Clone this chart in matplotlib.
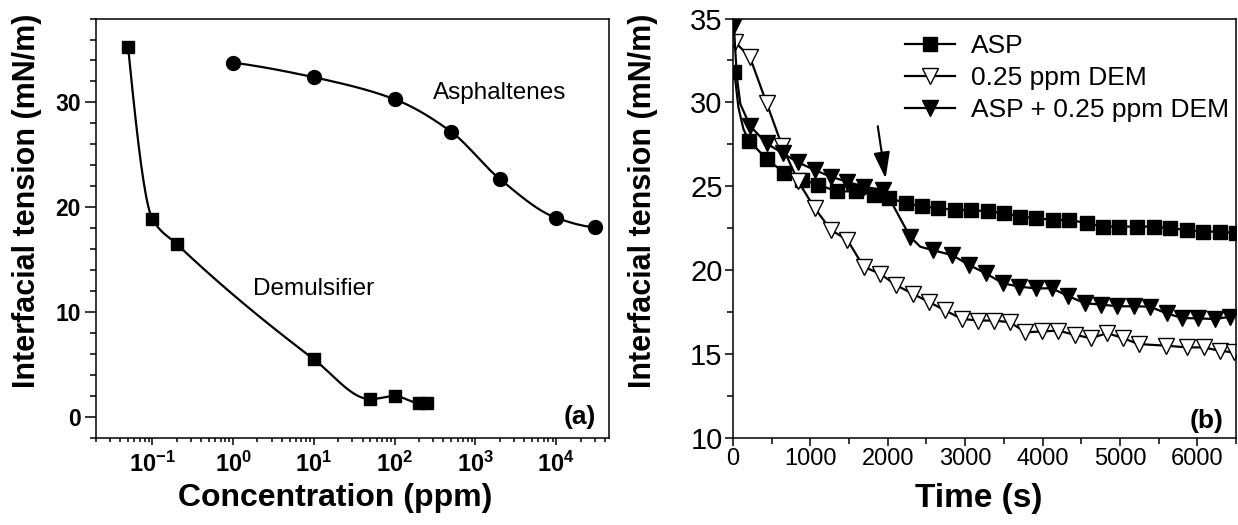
import numpy as np
import matplotlib
matplotlib.use("Agg")
import matplotlib.pyplot as plt
from matplotlib.ticker import MultipleLocator, LogLocator, NullFormatter, FixedLocator

plt.rcParams['font.family'] = ['Liberation Sans', 'DejaVu Sans']
plt.rcParams['mathtext.fontset'] = 'custom'
plt.rcParams['mathtext.rm'] = 'Liberation Sans'
plt.rcParams['mathtext.bf'] = 'Liberation Sans:bold'

# (a) interfacial tension vs concentration
dem_conc = [0.05, 0.1, 0.2, 10, 50, 100, 200, 250]
dem_ift = [35.3, 18.9, 16.5, 5.5, 1.7, 2.0, 1.35, 1.35]
asp_conc = [1, 10, 100, 500, 2000, 10000, 30000]
asp_ift = [33.8, 32.4, 30.3, 27.2, 22.7, 19.0, 18.1]
conc_ticks = [0.1, 1, 10, 100, 1000, 10000]
conc_labels = [r'$\mathbf{10^{-1}}$', r'$\mathbf{10^{0}}$', r'$\mathbf{10^{1}}$',
               r'$\mathbf{10^{2}}$', r'$\mathbf{10^{3}}$', r'$\mathbf{10^{4}}$']

# (b) dynamic interfacial tension
asp_t = [18, 70, 135, 210, 441, 664, 887, 1100, 1340, 1585, 1821, 2021, 2234, 2444, 2653,
         2866, 3080, 3289, 3498, 3711, 3921, 4135, 4348, 4580, 4780, 4994, 5216, 5439,
         5648, 5862, 6079, 6293, 6494]
asp_y = [31.8, 29.7, 28.4, 27.7, 26.6, 25.8, 25.4, 25.1, 24.7, 24.7, 24.5, 24.3, 24.0, 23.8,
         23.7, 23.6, 23.6, 23.5, 23.4, 23.2, 23.1, 23.0, 23.0, 22.8, 22.6, 22.6, 22.6, 22.6,
         22.5, 22.4, 22.3, 22.3, 22.2]
dem_t = [26, 218, 435, 635, 841, 1056, 1265, 1479, 1688, 1898, 2111, 2320, 2534, 2743,
         2956, 3169, 3369, 3579, 3779, 3993, 4201, 4416, 4624, 4838, 5040, 5240, 5600,
         5870, 6080, 6290, 6470]
dem_y = [33.6, 32.7, 29.95, 27.4, 25.3, 23.7, 22.4, 21.8, 20.2, 19.8, 19.1, 18.6, 18.1,
         17.6, 17.1, 17.0, 17.0, 16.9, 16.3, 16.35, 16.4, 16.15, 15.95, 16.25, 15.95, 15.6,
         15.5, 15.4, 15.4, 15.2, 15.1]
mix_t = [10, 50, 95, 220, 435, 641, 841, 1056, 1265, 1479, 1688, 1932, 2030, 2288, 2420,
         2578, 2831, 3053, 3266, 3489, 3698, 3911, 4121, 4335, 4549, 4759, 4968, 5181,
         5382, 5605, 5805, 6014, 6228, 6428]
mix_y = [34.6, 31.5, 29.9, 28.6, 27.56, 26.97, 26.43, 25.97, 25.57, 25.27, 24.98, 24.78,
         24.2, 22.0, 21.4, 21.2, 20.9, 20.31, 19.81, 19.22, 19.02, 18.92, 18.92, 18.45,
         18.03, 17.95, 17.85, 17.85, 17.83, 17.43, 17.15, 17.13, 17.09, 17.23]
series_names = ['ASP', '0.25 ppm DEM', 'ASP + 0.25 ppm DEM']


def pchip(x, y, xn):
    # monotone cubic through the points (Fritsch-Carlson)
    x = np.asarray(x, float)
    y = np.asarray(y, float)
    h = np.diff(x)
    d = np.diff(y) / h
    n = len(x)
    m = np.zeros(n)
    for k in range(1, n - 1):
        if d[k - 1] * d[k] > 0:
            w1 = 2 * h[k] + h[k - 1]
            w2 = h[k] + 2 * h[k - 1]
            m[k] = (w1 + w2) / (w1 / d[k - 1] + w2 / d[k])
    m[0] = ((2 * h[0] + h[1]) * d[0] - h[0] * d[1]) / (h[0] + h[1])
    if np.sign(m[0]) != np.sign(d[0]):
        m[0] = 0
    elif np.sign(d[0]) != np.sign(d[1]) and abs(m[0]) > abs(3 * d[0]):
        m[0] = 3 * d[0]
    m[-1] = ((2 * h[-1] + h[-2]) * d[-1] - h[-1] * d[-2]) / (h[-1] + h[-2])
    if np.sign(m[-1]) != np.sign(d[-1]):
        m[-1] = 0
    elif np.sign(d[-1]) != np.sign(d[-2]) and abs(m[-1]) > abs(3 * d[-1]):
        m[-1] = 3 * d[-1]
    idx = np.clip(np.searchsorted(x, xn) - 1, 0, n - 2)
    t = (xn - x[idx]) / h[idx]
    h00 = 2 * t**3 - 3 * t**2 + 1
    h10 = t**3 - 2 * t**2 + t
    h01 = -2 * t**3 + 3 * t**2
    h11 = t**3 - t**2
    return h00 * y[idx] + h10 * h[idx] * m[idx] + h01 * y[idx + 1] + h11 * h[idx] * m[idx + 1]


def smooth_log(xs, ys):
    lx = np.log10(xs)
    grid = np.linspace(lx[0], lx[-1], 400)
    return 10**grid, pchip(lx, ys, grid)


fig = plt.figure(figsize=(12.38, 5.25), dpi=100)
ax1 = fig.add_axes([0.0775, 0.1657, 0.4144, 0.799])
ax2 = fig.add_axes([0.5921, 0.1657, 0.4063, 0.799])

# ---- panel (a)
xs, ys = smooth_log(dem_conc, dem_ift)
ax1.plot(xs, ys, color='black', lw=1.6)
ax1.plot(dem_conc, dem_ift, 's', color='black', ms=9)
xs, ys = smooth_log(asp_conc, asp_ift)
ax1.plot(xs, ys, color='black', lw=1.6)
ax1.plot(asp_conc, asp_ift, 'o', color='black', ms=10)

ax1.set_xscale('log')
ax1.set_xlim(0.02, 45000)
ax1.set_ylim(-2, 38)
ax1.xaxis.set_major_locator(FixedLocator(conc_ticks))
ax1.set_xticklabels(conc_labels)
ax1.xaxis.set_minor_locator(LogLocator(base=10, subs=np.arange(2, 10), numticks=20))
ax1.xaxis.set_minor_formatter(NullFormatter())
ax1.yaxis.set_major_locator(MultipleLocator(10))
ax1.yaxis.set_minor_locator(MultipleLocator(2))
ax1.tick_params(axis='y', which='major', direction='out', length=8, width=1.1,
                labelsize=16.5, pad=3)
ax1.tick_params(axis='y', which='minor', direction='out', length=4.5, width=1.1)
ax1.tick_params(axis='x', which='major', direction='out', length=5, width=1.1,
                labelsize=17, pad=5)
ax1.tick_params(axis='x', which='minor', direction='out', length=3, width=1.1)
for lab in ax1.get_yticklabels():
    lab.set_fontweight('bold')
ax1.set_xlabel('Concentration (ppm)', fontsize=23, fontweight='bold')
ax1.set_ylabel('Interfacial tension (mN/m)', fontsize=22, fontweight='bold')
ax1.xaxis.set_label_coords(0.466, -0.107)
ax1.yaxis.set_label_coords(-0.105, 0.565)
ax1.text(2000, 30.9, 'Asphaltenes', fontsize=17.5, ha='center', va='center')
ax1.text(10, 12.2, 'Demulsifier', fontsize=17.5, ha='center', va='center')
ax1.text(0.975, 0.05, '(a)', transform=ax1.transAxes, fontsize=19, fontweight='bold',
         ha='right', va='center')

# ---- panel (b)
skip_asp = [0] + list(range(3, len(asp_t)))
skip_mix = [i for i in range(len(mix_t)) if i not in (1, 2, 12, 14)]
ax2.plot(asp_t, asp_y, '-s', color='black', lw=1.6, ms=10, markevery=skip_asp,
         label=series_names[0])
ax2.plot(dem_t, dem_y, '-v', color='black', lw=1.6, ms=12, mfc='white', mec='black',
         mew=1.0, label=series_names[1])
ax2.plot(mix_t, mix_y, '-v', color='black', lw=1.6, ms=12, markevery=skip_mix,
         label=series_names[2])
ax2.annotate('', xy=(1977, 25.3), xytext=(1865, 28.75),
             arrowprops=dict(arrowstyle='-|>,head_length=0.9,head_width=0.28',
                             color='black', lw=1.5, mutation_scale=18))
ax2.set_xlim(0, 6500)
ax2.set_ylim(10, 35)
ax2.xaxis.set_major_locator(MultipleLocator(1000))
ax2.xaxis.set_minor_locator(MultipleLocator(500))
ax2.yaxis.set_major_locator(MultipleLocator(5))
ax2.yaxis.set_minor_locator(MultipleLocator(2.5))
ax2.tick_params(axis='y', which='major', direction='out', length=5.5, width=1.1,
                labelsize=21, pad=2)
ax2.tick_params(axis='y', which='minor', direction='out', length=4, width=1.1)
ax2.tick_params(axis='x', which='major', direction='out', length=6, width=1.1,
                labelsize=17, pad=1)
ax2.tick_params(axis='x', which='minor', direction='out', length=4, width=1.1)
ax2.set_xlabel('Time (s)', fontsize=24, fontweight='bold')
ax2.set_ylabel('Interfacial tension (mN/m)', fontsize=22, fontweight='bold')
ax2.xaxis.set_label_coords(0.489, -0.107)
ax2.yaxis.set_label_coords(-0.15, 0.565)
ax2.legend(loc='upper left', bbox_to_anchor=(0.31, 1.0), frameon=False, fontsize=19,
           handlelength=1.9, handletextpad=0.6, labelspacing=0.3, borderaxespad=0.2)
ax2.text(0.975, 0.04, '(b)', transform=ax2.transAxes, fontsize=19, fontweight='bold',
         ha='right', va='center')

for ax in (ax1, ax2):
    for sp in ax.spines.values():
        sp.set_linewidth(1.1)

fig.savefig('out.png', dpi=100)
